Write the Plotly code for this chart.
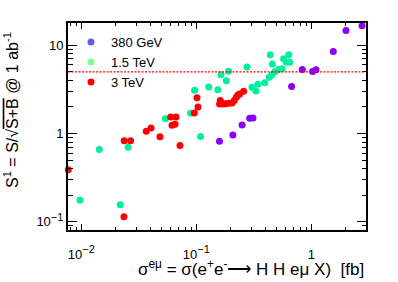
import numpy as np
import plotly.graph_objects as go

# ---- data ----
series_names = ["380 GeV", "1.5 TeV", "3 TeV"]

x_380 = [0.159, 0.208, 0.25, 0.291, 0.311, 0.674, 0.835, 1.026, 1.099, 1.553, 2.003, 2.76]
y_380 = [0.818, 0.964, 1.25, 1.49, 1.50, 3.42, 5.33, 5.06, 5.29, 8.51, 14.7, 16.7]

x_1500 = [0.00974, 0.0218, 0.01434, 0.0255, 0.0538, 0.0892, 0.0966, 0.109, 0.1284,
          0.154, 0.164, 0.1824, 0.1906, 0.276, 0.305, 0.330, 0.343, 0.394, 0.4315,
          0.455, 0.486, 0.5196, 0.556, 0.44, 0.458, 0.574, 0.637, 0.606, 0.65]
y_1500 = [0.175, 0.156, 0.66, 0.70, 1.47, 1.70, 3.09, 0.925, 3.36,
          3.14, 4.64, 3.97, 5.08, 5.66, 3.34, 3.04, 3.61, 3.75, 4.33,
          4.64, 5.06, 5.33, 5.43, 7.81, 6.15, 7.04, 7.81, 6.44, 6.44]

x_3000 = [0.0079, 0.0077, 0.0235, 0.0236, 0.0268, 0.0367, 0.0404, 0.0483, 0.0598,
          0.0666, 0.0615, 0.0653, 0.0721, 0.0961, 0.1035, 0.1014, 0.1617, 0.1594,
          0.1727, 0.18, 0.191, 0.2043, 0.214, 0.2227, 0.23, 0.238, 0.258]
y_3000 = [0.080, 0.388, 0.114, 0.825, 0.825, 1.06, 1.157, 0.916, 1.54,
          1.54, 1.24, 1.27, 0.732, 1.71, 2.0, 2.55, 2.36, 2.16,
          2.16, 2.17, 2.20, 2.22, 2.36, 2.57, 2.74, 2.80, 3.01]

threshold = 5.0

SUP = "<sup><span style='font-size:11px'>%s</span></sup>"
x_tickvals = [0.01, 0.1, 1]
x_ticktext = ["10" + SUP % "\u22122", "10" + SUP % "\u22121", "1"]
y_tickvals = [0.1, 1, 10]
y_ticktext = ["10" + SUP % "\u22121", "1", "10"]

data_colors = ["#8a00ff", "#00f09c", "#ff0000"]
legend_colors = ["#5c5cff", "#80ff90", "#ff0000"]

FONT = "Liberation Sans, Arial, Helvetica, sans-serif"

fig = go.Figure()
for xs, ys, col in zip([x_380, x_1500, x_3000], [y_380, y_1500, y_3000], data_colors):
    fig.add_trace(go.Scatter(x=xs, y=ys, mode="markers", showlegend=False,
                             marker=dict(color=col, size=7, line=dict(width=0)),
                             cliponaxis=False))
for name, col in zip(series_names, legend_colors):
    fig.add_trace(go.Scatter(x=[None], y=[None], mode="markers", name=name,
                             marker=dict(color=col, size=7, line=dict(width=0))))

fig.add_hline(y=threshold, line=dict(color="red", width=1.3, dash="2px,1.5px"))

minor_x = [m * 10.0**e for e in range(-3, 1) for m in range(2, 10)]
minor_y = [m * 10.0**e for e in range(-2, 2) for m in range(2, 10)]

fig.update_xaxes(type="log", range=[np.log10(0.00766), np.log10(2.99)],
                 automargin=False,
                 tickmode="array", tickvals=x_tickvals, ticktext=x_ticktext,
                 ticks="inside", ticklen=6, tickwidth=1.3, tickcolor="black",
                 minor=dict(tickmode="array", tickvals=minor_x, ticks="inside",
                            ticklen=3, tickwidth=1.3, tickcolor="black", showgrid=False),
                 showline=True, linecolor="black", linewidth=2, mirror="allticks",
                 showgrid=False, zeroline=False,
                 tickfont=dict(family=FONT, size=13, color="black"),
                 ticklabelstandoff=11)
fig.update_yaxes(type="log", range=[np.log10(0.0805), np.log10(17.9)],
                 automargin=False,
                 tickmode="array", tickvals=y_tickvals, ticktext=y_ticktext,
                 ticks="inside", ticklen=9, tickwidth=1.3, tickcolor="black",
                 minor=dict(tickmode="array", tickvals=minor_y, ticks="inside",
                            ticklen=4.5, tickwidth=1.3, tickcolor="black", showgrid=False),
                 showline=True, linecolor="black", linewidth=2, mirror="allticks",
                 showgrid=False, zeroline=False,
                 tickfont=dict(family=FONT, size=13, color="black"),
                 ticklabelstandoff=0)

fig.add_annotation(xref="paper", yref="paper", x=1, y=0, xanchor="right",
                   yanchor="middle", yshift=-38, showarrow=False,
                   text="\u03c3<sup>e\u03bc</sup> = \u03c3(e<sup>+</sup>e<sup>-</sup>\u27f6 H H e\u03bc X)\u00a0\u00a0[fb]",
                   font=dict(family=FONT, size=17, color="black"))
fig.add_annotation(xref="paper", yref="paper", x=0, y=1, xanchor="center",
                   yanchor="top", xshift=-57, yshift=-7, showarrow=False, textangle=-90,
                   text="S<sup>1</sup> = S/\u221a<span style='text-decoration:overline'>S+B</span> @ 1 ab<sup>-1</sup>",
                   font=dict(family=FONT, size=16, color="black"))

fig.update_layout(template="none", width=398, height=282,
                  margin=dict(l=68, r=32, t=23, b=52, autoexpand=False),
                  paper_bgcolor="white", plot_bgcolor="white",
                  showlegend=True,
                  legend=dict(x=0.01, y=0.98, xanchor="left", yanchor="top",
                              bgcolor="rgba(0,0,0,0)", borderwidth=0,
                              font=dict(family=FONT, size=13, color="black"),
                              itemwidth=30, tracegroupgap=0))

fig.write_html("out.html", config={"displayModeBar": False},
               post_script="document.body.style.margin='0px';document.body.style.padding='0px';")
